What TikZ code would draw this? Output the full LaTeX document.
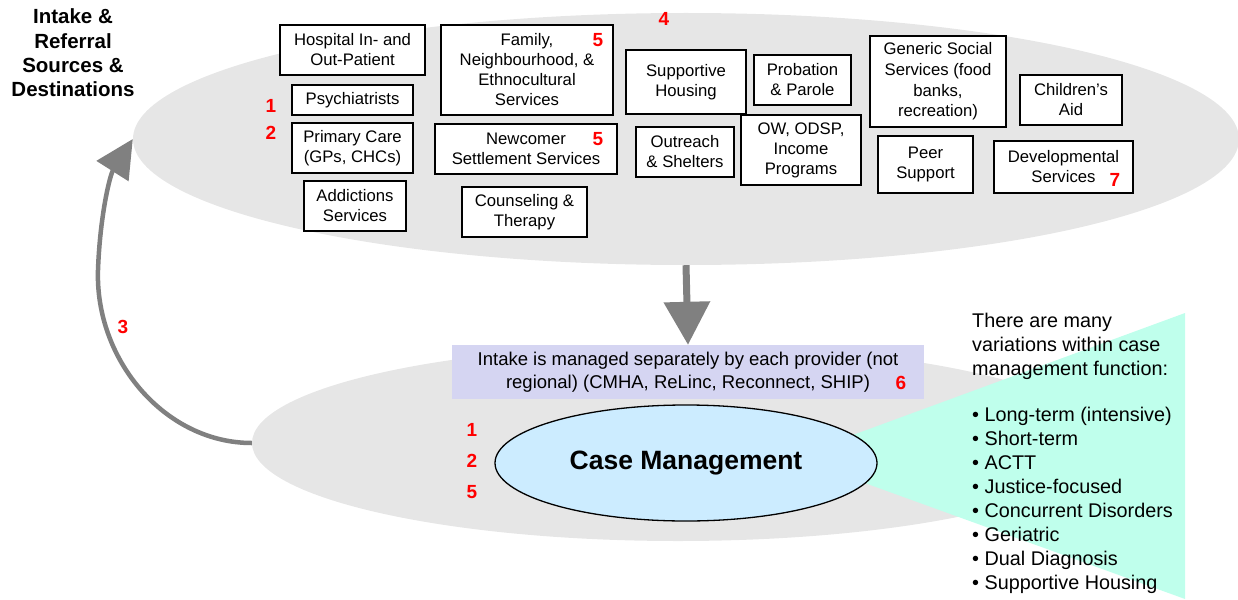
\documentclass[tikz,border=0pt]{standalone}
\usepackage{fontspec}
\setmainfont{Liberation Sans}
\usetikzlibrary{shapes.geometric,arrows.meta}
\definecolor{ellgray}{HTML}{E6E6E6}
\definecolor{intakebg}{HTML}{D5D5F2}
\definecolor{tealbg}{HTML}{BFFFEC}
\definecolor{cmblue}{HTML}{CCECFF}
\definecolor{arrowgray}{HTML}{808080}
\definecolor{numred}{HTML}{FF0000}
\begin{document}
\begin{tikzpicture}[x=1pt,y=-1pt,
  svcbox/.style={draw=black, line width=1.3pt, fill=white, align=center, inner sep=0pt,
    font=\fontsize{16.7}{20}\selectfont},
  thickbox/.style={svcbox, line width=2pt},
  num/.style={text=numred, font=\bfseries\fontsize{19}{22}\selectfont, inner sep=0pt},
  bigell/.style={ellipse, fill=ellgray, inner sep=0pt},
  rtext/.style={anchor=base west, inner sep=0pt, font=\fontsize{19.8}{24}\selectfont},
  grayarrow/.style={draw=arrowgray, line cap=butt}
]
\useasboundingbox (0,0) rectangle (1238,599);

% big gray ellipses
\node[bigell, minimum width=1106pt, minimum height=252pt] (topell) at (686,139) {};
\node[bigell, minimum width=852pt, minimum height=196pt] (botell) at (678,443) {};

% heading
\node[align=center, inner sep=0pt, font=\bfseries\fontsize{20.5}{24.3}\selectfont] (heading) at (73,53)
  {Intake \&\\Referral\\Sources \&\\Destinations};

% service boxes
\node[svcbox, minimum width=145pt, minimum height=50pt] (hosp) at (352.5,50) {Hospital In- and\\Out-Patient};
\node[svcbox, minimum width=121pt, minimum height=30pt] (psych) at (352.5,100) {Psychiatrists};
\node[svcbox, minimum width=121pt, minimum height=50pt] (primary) at (352.5,148) {Primary Care\\(GPs, CHCs)};
\node[svcbox, minimum width=102pt, minimum height=50pt] (addict) at (355,206) {Addictions\\Services};
\node[svcbox, minimum width=172pt, minimum height=90pt] (family) at (527,70) {Family,\\Neighbourhood, \&\\Ethnocultural\\Services};
\node[svcbox, minimum width=182pt, minimum height=50pt] (newcomer) at (526,149) {Newcomer\\Settlement Services};
\node[svcbox, minimum width=125pt, minimum height=50pt] (counsel) at (524.5,212) {Counseling \&\\Therapy};
\node[thickbox, minimum width=120pt, minimum height=64pt] (supphous) at (686,82) {Supportive\\Housing};
\node[svcbox, minimum width=97pt, minimum height=50pt] (probation) at (802.5,80) {Probation\\\& Parole};
\node[svcbox, minimum width=98pt, minimum height=50pt] (outreach) at (685,152) {Outreach\\\& Shelters};
\node[svcbox, minimum width=120pt, minimum height=70pt] (ow) at (801,150) {OW, ODSP,\\Income\\Programs};
\node[svcbox, minimum width=136pt, minimum height=91pt, font=\fontsize{16.7}{20.7}\selectfont] (generic) at (938,81.5) {Generic Social\\Services (food\\banks,\\recreation)};
\node[svcbox, minimum width=102pt, minimum height=50pt] (children) at (1071,100) {Children’s\\Aid};
\node[thickbox, minimum width=95pt, minimum height=57pt] (peer) at (925.5,164.5) {Peer\\Support};
\node[svcbox, minimum width=139pt, minimum height=52pt] (devel) at (1063.5,167) {Developmental\\Services};

% red numbers (top)
\node[num] (n1a) at (271,106) {1};
\node[num] (n2a) at (271,133) {2};
\node[num] (n4) at (664,19) {4};
\node[num] (n5a) at (598,40) {5};
\node[num] (n5b) at (598,139) {5};
\node[num] (n7) at (1115,180) {7};

% teal triangle
\fill[tealbg] (793,457) -- (1185,313) -- (1185,599) -- cycle;

% intake box
\node[fill=intakebg, minimum width=472pt, minimum height=54pt, inner sep=0pt, align=center,
  font=\fontsize{18.5}{23}\selectfont] (intake) at (688,372)
  {Intake is managed separately by each provider (not\\regional) (CMHA, ReLinc, Reconnect, SHIP)};
\node[num] (n6) at (901,383) {6};

% case management
\node[ellipse, draw=black, line width=1.3pt, fill=cmblue, minimum width=382pt, minimum height=116pt,
  inner sep=0pt, font=\bfseries\fontsize{26.5}{30}\selectfont] (cm) at (686,463) {Case Management};
\node[num] (n1b) at (472,430) {1};
\node[num] (n2b) at (472,461) {2};
\node[num] (n5c) at (472,492) {5};

% arrows
\draw[grayarrow, line width=7pt, -{Triangle[length=43pt,width=45pt]}] (topell.south) -- (intake.north);
\draw[grayarrow, line width=4.5pt, -{Triangle[length=38pt,width=37pt]}]
  (botell.west) .. controls (165,443) and (95,360) .. (98,270)
  .. controls (100,215) and (110,175) .. (topell.west);
\node[num] (n3) at (123,327) {3};

% right-hand text
\node[rtext] (r1) at (972,327) {There are many};
\node[rtext] (r2) at (972,351) {variations within case};
\node[rtext] (r3) at (972,375) {management function:};
\foreach \t [count=\i] in {Long-term (intensive), Short-term, ACTT, Justice-focused,
  Concurrent Disorders, Geriatric, Dual Diagnosis, Supportive Housing}{
  \node[rtext] (b\i) at (972,397+24*\i) {• \t};
}
\end{tikzpicture}
\end{document}
